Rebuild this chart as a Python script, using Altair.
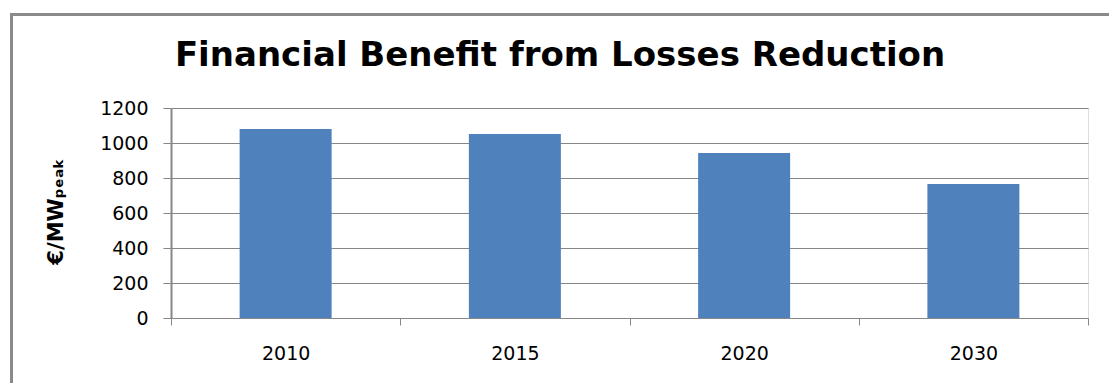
import altair as alt
import pandas as pd

years = ["2010", "2015", "2020", "2030"]
benefit = [1080, 1052, 943, 766]
y_ticks = [0, 200, 400, 600, 800, 1000, 1200]
title_text = "Financial Benefit from Losses Reduction"

df = pd.DataFrame({"year": years, "value": benefit})
one_df = pd.DataFrame({"k": [0]})

GRAY = "#868686"

bars = alt.Chart(df).mark_bar(size=92, color="#4F81BD").encode(
    x=alt.X(
        "year:N",
        sort=years,
        scale=alt.Scale(paddingInner=0, paddingOuter=0),
        axis=alt.Axis(
            title=None, tickBand="extent", labelAngle=0, grid=False,
            domainColor=GRAY, domainWidth=1, tickColor=GRAY, tickSize=7,
            labelFont="DejaVu Sans", labelFontSize=19, labelColor="black",
            labelPadding=19,
        ),
    ),
    y=alt.Y(
        "value:Q",
        scale=alt.Scale(domain=[0, 1200], nice=False),
        axis=alt.Axis(
            values=y_ticks, format="d", title="€/MWₚₑₐₖ", grid=True,
            gridColor=GRAY, gridWidth=1.2, domainColor=GRAY, domainWidth=2,
            tickColor=GRAY, tickSize=8, labelFont="DejaVu Sans",
            labelFontSize=19, labelColor="black", labelPadding=15,
            titleFont="DejaVu Sans", titleFontSize=21, titleFontWeight="bold",
            titleColor="black", titleX=-109, titleY=103, titleAlign="center",
            titleBaseline="alphabetic", titleAngle=270,
        ),
    ),
)

frame = alt.Chart(one_df).mark_rect(
    filled=False, stroke="#8a8a8a", strokeWidth=3
).encode(
    x=alt.value(-159.5), x2=alt.value(1200), y=alt.value(-93.5), y2=alt.value(500)
)

title = alt.Chart(one_df).mark_text(
    text=title_text, font="DejaVu Sans", fontSize=34, fontWeight="bold",
    color="black", align="center", baseline="alphabetic",
).encode(x=alt.value(389), y=alt.value(-42))

chart = alt.layer(frame, bars, title).properties(
    width=917,
    height=210,
    padding={"left": 171, "top": 108, "right": 21, "bottom": 65},
    autosize=alt.AutoSizeParams(type="none"),
).configure_view(stroke=None).configure(background="white")

chart.save("out.html", embed_options={"renderer": "svg", "actions": False})
